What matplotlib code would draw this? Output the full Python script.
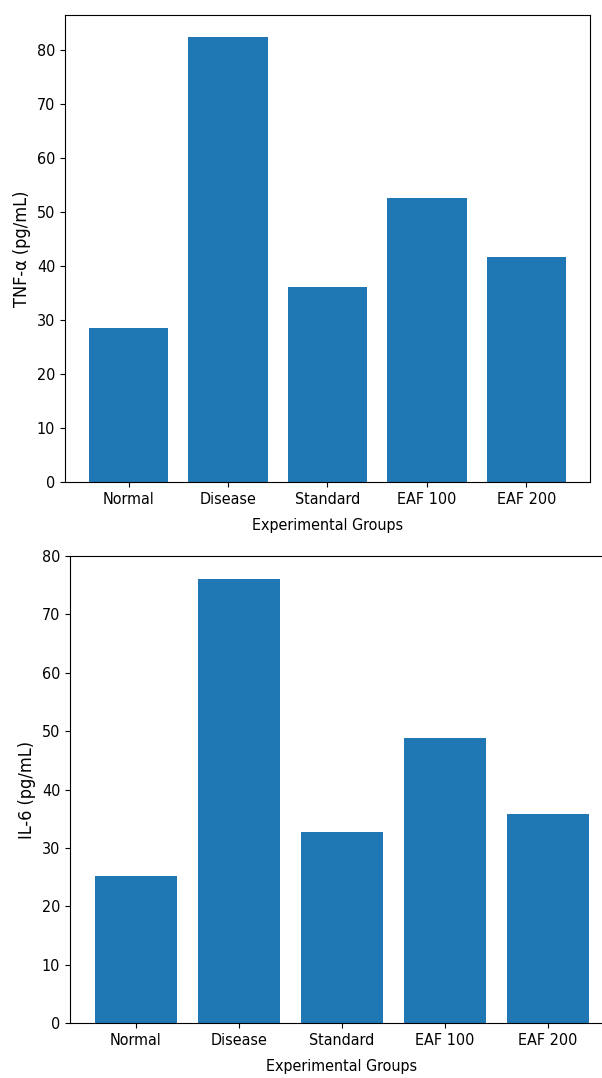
import matplotlib.pyplot as plt

plt.rcParams["font.size"] = 11.5
plt.rcParams["font.stretch"] = "condensed"

groups = ["Normal", "Disease", "Standard", "EAF 100", "EAF 200"]
tnf_alpha = [28.5, 82.4, 36.2, 52.6, 41.6]
il_6 = [25.2, 76.1, 32.8, 48.8, 35.8]

fig = plt.figure(figsize=(6.02, 10.78), dpi=100)

# TNF-alpha panel
ax1 = fig.add_axes([0.108, 0.5529, 0.872, 0.4332])
ax1.bar(groups, tnf_alpha, color="#1f77b4")
ax1.set_xlabel("Experimental Groups", labelpad=8)
ax1.set_ylabel("TNF-α (pg/mL)", fontsize=13)

# IL-6 panel
ax2 = fig.add_axes([0.1163, 0.051, 0.9037, 0.4332])
ax2.bar(groups, il_6, color="#1f77b4")
ax2.set_ylim(0, 80)
ax2.set_xlabel("Experimental Groups", labelpad=8)
ax2.set_ylabel("IL-6 (pg/mL)", fontsize=13)

fig.savefig("out.png", dpi=100)
